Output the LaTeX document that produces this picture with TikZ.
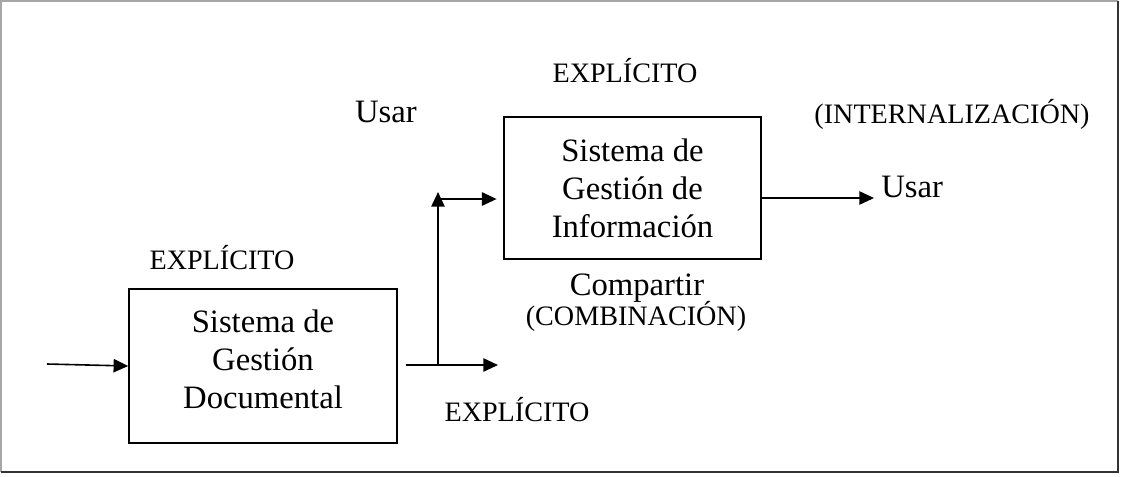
\documentclass[tikz,border=0pt]{standalone}
\usepackage{fontspec}
\setmainfont{Liberation Serif}
\usetikzlibrary{arrows.meta}
\begin{document}
\begin{tikzpicture}[x=0.75pt,y=-0.75pt,
  box/.style={draw, line width=1.1pt, inner sep=0pt},
  big/.style={font=\fontsize{24.5}{28.5}\selectfont, inner sep=0pt, align=center},
  small/.style={font=\fontsize{21.1}{24}\selectfont, inner sep=0pt},
  arr/.style={line width=1.2pt, -{Triangle[length=11pt,width=10pt]}},
  ln/.style={line width=1.2pt}]
\useasboundingbox (0,0) rectangle (1122,476);
% frame
\draw[gray!70, line width=1.4pt] (1,472) -- (1,1) -- (1118,1);
\draw[gray!40!black, line width=1.4pt] (1118,1) -- (1118,472) -- (1,472);
% boxes
\node[box, minimum width=201pt, minimum height=115.5pt] (sgd) at (263,366) {};
\node[big] (sgdt) at (263,359) {Sistema de\\Gestión\\Documental};
\node[box, minimum width=192.75pt, minimum height=106.5pt] (sgi) at (632.5,188) {};
\node[big] (sgit) at (632.5,188) {Sistema de\\Gestión de\\Información};
% labels
\node[small, anchor=base] (e1) at (625,82) {EXPLÍCITO};
\node[big, anchor=base] (u1) at (386,122) {Usar};
\node[small, anchor=base] (int) at (952,123) {(INTERNALIZACIÓN)};
\node[big, anchor=base west] (u2) at (881,197) {Usar};
\node[small, anchor=base] (e2) at (222,269) {EXPLÍCITO};
\node[big, anchor=base] (comp) at (637,295) {Compartir};
\node[small, anchor=base] (comb) at (636,325) {(COMBINACIÓN)};
\node[small, anchor=base] (e3) at (517,421) {EXPLÍCITO};
% connectors
\coordinate (in) at (47,364);
\coordinate (sp) at (438,365);
\coordinate (out) at (498,365);
\coordinate (up) at (438,192);
\coordinate (br) at (438,199);
\coordinate (o2) at (874,198);
\draw[arr] (in) -- (sgd.west);
\draw[ln, shorten <=6pt] (sgd.east |- sp) -- (sp);
\draw[arr] (sp) -- (out);
\draw[arr] (sp) -- (up);
\draw[arr, shorten >=5pt] (br) -- (sgi.west |- br);
\draw[arr] (sgi.east |- o2) -- (o2);
\end{tikzpicture}
\end{document}
